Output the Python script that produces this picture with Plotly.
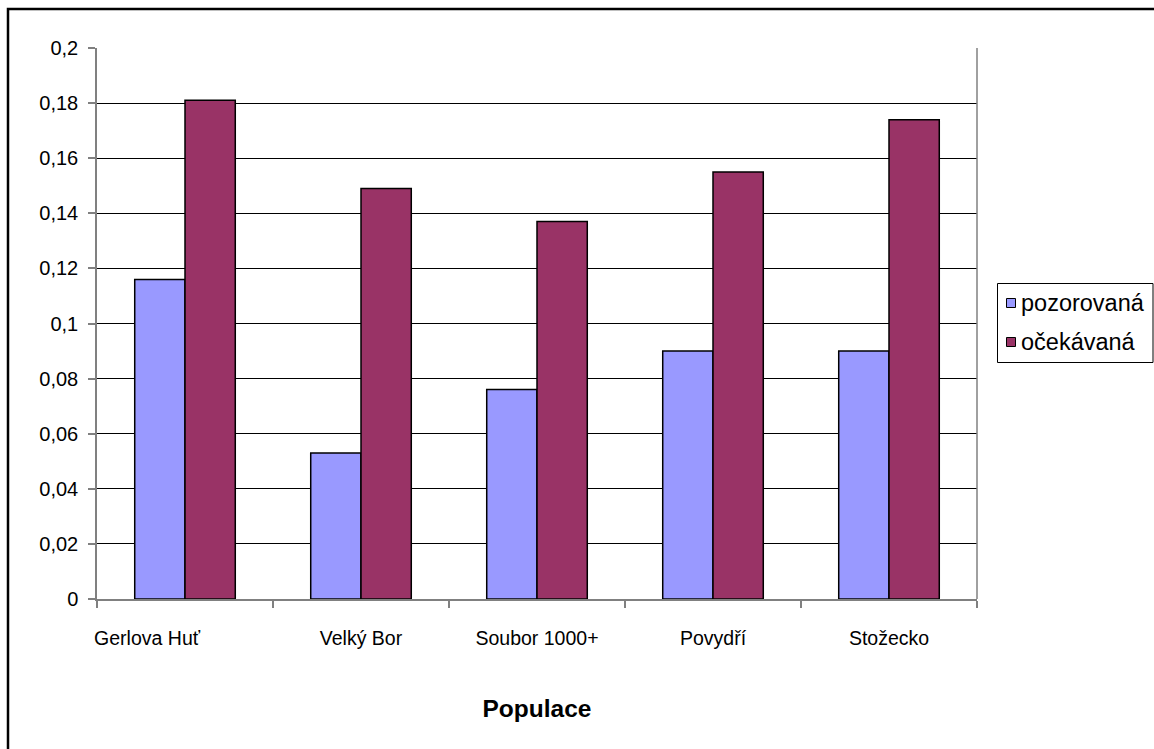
import plotly.graph_objects as go

# Populations and the two heterozygosity series
populace = ["Gerlova Huť", "Velký Bor", "Soubor 1000+", "Povydří", "Stožecko"]
pozorovana = [0.116, 0.053, 0.076, 0.090, 0.090]
ocekavana = [0.181, 0.149, 0.137, 0.155, 0.174]
series_names = ["pozorovaná", "očekávaná"]
series_colors = ["#9999FF", "#993366"]

# category labels as printed under the axis (first one padded on the right)
tick_labels = ["Gerlova Huť" + "\u00a0" * 14, "Velký Bor", "Soubor 1000+", "Povydří", "Stožecko"]

W, H = 1154, 749
L, R, T, B = 97, 977, 48, 599  # plot area in pixels

FONT = "Liberation Sans, Arial, sans-serif"

fig = go.Figure()
for name, vals, col in zip(series_names, [pozorovana, ocekavana], series_colors):
    fig.add_trace(go.Bar(
        x=populace, y=vals, name=name,
        marker=dict(color=col, line=dict(color="#000000", width=1.5)),
        showlegend=False,
    ))


def px_to_paper(x, y):
    return (x - L) / (R - L), (B - y) / (B - T)


shapes = []
annotations = []

# outer chart frame
x0, y0 = px_to_paper(8, 9)
x1, y1 = px_to_paper(1160, 760)
shapes.append(dict(type="rect", xref="paper", yref="paper", x0=x0, y0=y1, x1=x1, y1=y0,
                   line=dict(color="#000000", width=2.5), layer="below"))

# plot area right edge
shapes.append(dict(type="line", xref="paper", yref="paper", x0=1, x1=1, y0=0, y1=1,
                   line=dict(color="#808080", width=1.5)))

# legend box
lx0, ly0 = px_to_paper(997.5, 283.5)
lx1, ly1 = px_to_paper(1153, 362.5)
shapes.append(dict(type="rect", xref="paper", yref="paper", x0=lx0, y0=ly1, x1=lx1, y1=ly0,
                   line=dict(color="#000000", width=1), fillcolor="white"))

for i, (name, col) in enumerate(zip(series_names, series_colors)):
    cy = 303 + 39 * i
    sx0, sy0 = px_to_paper(1006.5, cy - 4.5)
    sx1, sy1 = px_to_paper(1015.5, cy + 4.5)
    shapes.append(dict(type="rect", xref="paper", yref="paper", x0=sx0, y0=sy1, x1=sx1, y1=sy0,
                       line=dict(color="#000000", width=1), fillcolor=col))
    tx, ty = px_to_paper(1019, cy)
    annotations.append(dict(xref="paper", yref="paper", x=tx, y=ty, text=name,
                            showarrow=False, xanchor="left", yanchor="middle",
                            font=dict(family=FONT, size=23.5, color="#000000")))

fig.update_layout(
    width=W, height=H,
    margin=dict(l=L, r=W - R, t=T, b=H - B, pad=0, autoexpand=False),
    paper_bgcolor="white", plot_bgcolor="white",
    separators=", ",
    barmode="group", bargap=0.4286, bargroupgap=0,
    font=dict(family=FONT, size=19, color="#000000"),
    shapes=shapes, annotations=annotations,
    xaxis=dict(
        type="category", tickson="boundaries", ticks="outside", ticklen=7,
        tickcolor="#808080", tickwidth=1.5, tickangle=0, automargin=False,
        tickmode="array", tickvals=populace, ticktext=tick_labels,
        showline=True, linecolor="#808080", linewidth=1.5,
        showgrid=False, ticklabelstandoff=21,
        tickfont=dict(family=FONT, size=19.5),
        title=dict(text="<b>Populace</b>", standoff=52,
                   font=dict(family=FONT, size=24.5)),
    ),
    yaxis=dict(
        range=[0, 0.2], dtick=0.02, tick0=0, automargin=False,
        ticks="outside", ticklen=7, tickcolor="#808080", tickwidth=1.5,
        showline=True, linecolor="#808080", linewidth=1.5,
        showgrid=True, gridcolor="#000000", gridwidth=1,
        zeroline=False, ticklabelstandoff=6,
        tickfont=dict(family=FONT, size=20),
    ),
)

fig.write_html("out.html")
